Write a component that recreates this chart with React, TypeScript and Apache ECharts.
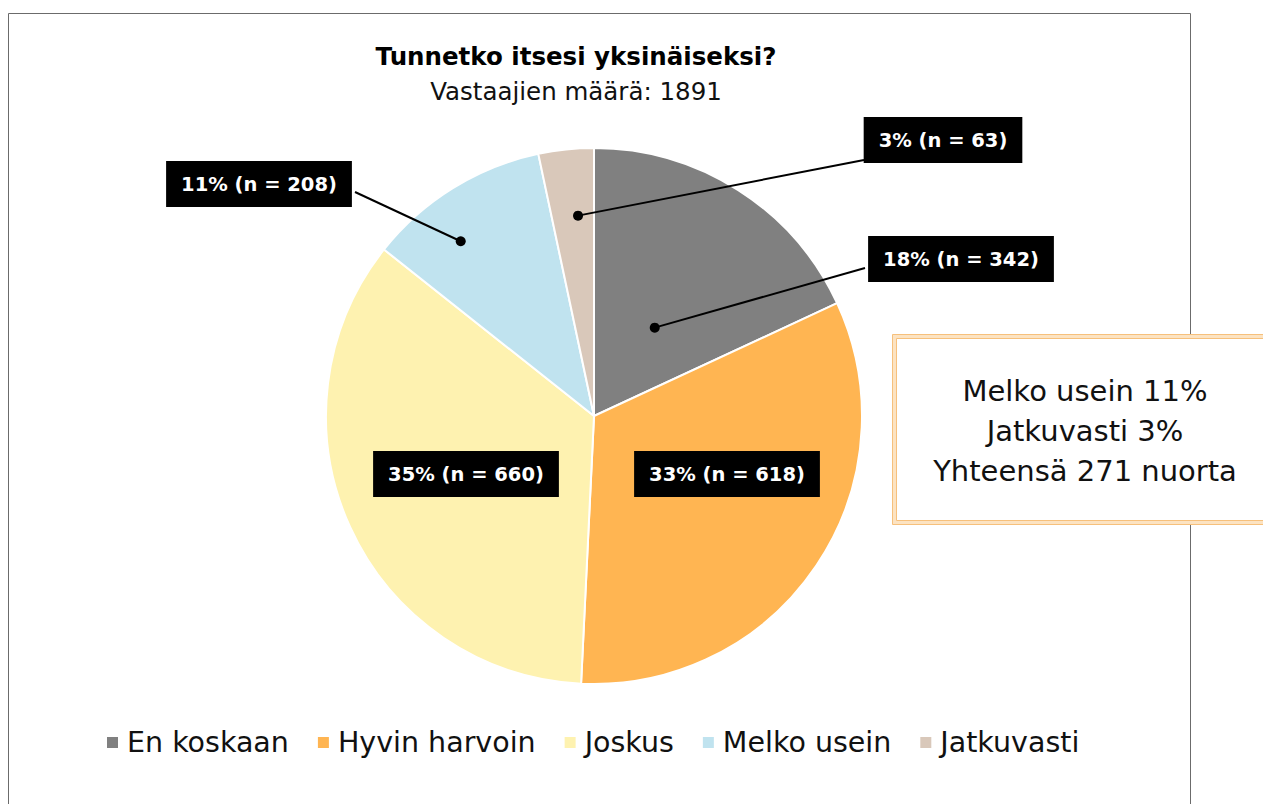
import React, { useEffect, useRef } from "react";
import * as echarts from "echarts";

const titleText = "Tunnetko itsesi yksinäiseksi?";
const subtitleText = "Vastaajien määrä: 1891";
const categories = ["En koskaan", "Hyvin harvoin", "Joskus", "Melko usein", "Jatkuvasti"];
const counts = [342, 618, 660, 208, 63];
const percents = [18, 33, 35, 11, 3];
const colors = ["#808080", "#FFB552", "#FEF2B0", "#C0E3EF", "#D9C8BA"];

// annotation layout (label box centers) and leader-line dots
const labelCenters: [number, number][] = [
  [961, 259],
  [727, 474],
  [466, 474],
  [259, 184],
  [943, 140],
];
// dot position within slice: [fraction of slice angular span, fraction of radius]; null = no leader line
const dotPlacement: ([number, number] | null)[] = [[0.53, 0.4], null, null, [0.36, 0.82], [0.62, 0.75]];
// leader line start at the label box
const lineStarts: ([number, number] | null)[] = [[865, 268], null, null, [355, 192], [864, 160]];

const CX = 594;
const CY = 416;
const R = 268;

export default function App() {
  const ref = useRef<HTMLDivElement>(null);
  useEffect(() => {
    if (!ref.current) return;
    const chart = echarts.init(ref.current, null, { renderer: "svg" });
    const total = counts.reduce((a, b) => a + b, 0);
    const graphics: any[] = [];
    graphics.push({
      type: "rect",
      shape: { x: 8.5, y: 13.5, width: 1182, height: 840 },
      style: { fill: "none", stroke: "#6b6b6b", lineWidth: 1 },
      z: 0,
    });
    let cum = 0;
    counts.forEach((v, i) => {
      const a0 = (cum / total) * 2 * Math.PI;
      const a1 = ((cum + v) / total) * 2 * Math.PI;
      cum += v;
      const dp = dotPlacement[i];
      const ls = lineStarts[i];
      if (!dp || !ls) return;
      const a = a0 + (a1 - a0) * dp[0];
      const r = R * dp[1];
      const dx = CX + r * Math.sin(a);
      const dy = CY - r * Math.cos(a);
      graphics.push({
        type: "line",
        shape: { x1: ls[0], y1: ls[1], x2: dx, y2: dy },
        style: { stroke: "#000", lineWidth: 2 },
        z: 50,
      });
      graphics.push({
        type: "circle",
        shape: { cx: dx, cy: dy, r: 5 },
        style: { fill: "#000" },
        z: 50,
      });
    });
    // info box
    const melko = categories.indexOf("Melko usein");
    const jatk = categories.indexOf("Jatkuvasti");
    graphics.push({
      type: "rect",
      shape: { x: 892.5, y: 334.5, width: 400, height: 190 },
      style: { fill: "#FCE3C2", stroke: "#F6C07C", lineWidth: 1 },
      z: 60,
    });
    graphics.push({
      type: "rect",
      shape: { x: 896.5, y: 338.5, width: 400, height: 182 },
      style: { fill: "#fff", stroke: "#F6C07C", lineWidth: 1 },
      z: 61,
    });
    const infoLines = [
      `Melko usein ${percents[melko]}%`,
      `Jatkuvasti ${percents[jatk]}%`,
      `Yhteensä ${counts[melko] + counts[jatk]} nuorta`,
    ];
    infoLines.forEach((t, i) => {
      graphics.push({
        type: "text",
        x: 1085,
        y: 391 + i * 40,
        style: {
          text: t,
          fill: "#111",
          font: "29px 'DejaVu Sans'",
          textAlign: "center",
          textVerticalAlign: "middle",
        },
        z: 62,
      });
    });

    chart.setOption({
      animation: false,
      color: colors,
      title: [
        {
          text: titleText,
          left: 571,
          textAlign: "center",
          top: 39,
          textStyle: { fontFamily: "DejaVu Sans", fontWeight: "bold", fontSize: 24.5, color: "#000" },
        },
        {
          text: subtitleText,
          left: 571,
          textAlign: "center",
          top: 74,
          textStyle: { fontFamily: "DejaVu Sans", fontWeight: "normal", fontSize: 24.5, color: "#111" },
        },
      ],
      legend: {
        bottom: 42,
        left: 100,
        itemWidth: 13,
        itemHeight: 13,
        itemGap: 27,
        icon: "rect",
        textStyle: { fontFamily: "DejaVu Sans", fontSize: 28.5, color: "#111", padding: [0, 0, 0, 3] },
        data: categories,
      },
      graphic: graphics,
      series: [
        {
          type: "pie",
          center: [CX, CY],
          radius: R,
          startAngle: 90,
          clockwise: true,
          itemStyle: { borderColor: "#fff", borderWidth: 2 },
          label: {
            show: true,
            position: "inside",
            formatter: (p: any) => `${percents[p.dataIndex]}% (n = ${counts[p.dataIndex]})`,
            backgroundColor: "#000",
            color: "#fff",
            fontFamily: "DejaVu Sans",
            fontWeight: "bold",
            fontSize: 19.5,
            padding: [13, 15],
          },
          labelLine: { show: false },
          labelLayout: (p: any) => ({
            x: labelCenters[p.dataIndex][0],
            y: labelCenters[p.dataIndex][1],
            align: "center",
            verticalAlign: "middle",
          }),
          emphasis: { disabled: true },
          data: categories.map((c, i) => ({ name: c, value: counts[i] })),
        },
      ],
    });
    return () => chart.dispose();
  }, []);
  return (
    <div
      ref={ref}
      style={{ position: "fixed", left: 0, top: 0, width: 1263, height: 804, background: "#fff" }}
    />
  );
}
